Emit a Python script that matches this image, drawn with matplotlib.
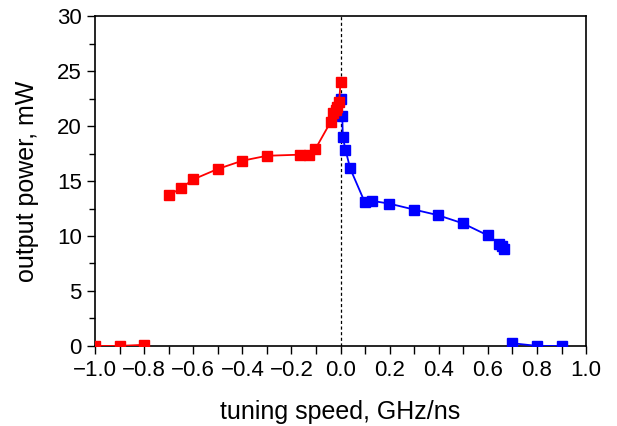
import matplotlib
matplotlib.use("Agg")
import matplotlib.pyplot as plt
from matplotlib.ticker import MultipleLocator

plt.rcParams['font.family'] = ['Liberation Sans', 'DejaVu Sans']
plt.rcParams['axes.unicode_minus'] = True

# rojo: barrido negativo
rojo_bajo_x = [-1.0, -0.9, -0.8]
rojo_bajo_y = [0.0, 0.0, 0.1]
rojo_x = [-0.7, -0.65, -0.6, -0.5, -0.4, -0.3, -0.165, -0.13, -0.103,
          -0.04, -0.03, -0.018, -0.013, -0.006, 0.0]
rojo_y = [13.7, 14.35, 15.15, 16.1, 16.85, 17.3, 17.4, 17.35, 17.9,
          20.4, 21.15, 21.45, 21.75, 22.2, 24.0]

# azul: barrido positivo
azul_x = [0.002, 0.007, 0.009, 0.02, 0.039, 0.098, 0.127, 0.198, 0.3,
          0.396, 0.498, 0.6, 0.647, 0.657, 0.667]
azul_y = [22.5, 20.9, 19.0, 17.85, 16.15, 13.1, 13.2, 12.95, 12.4,
          11.9, 11.15, 10.05, 9.3, 9.1, 8.85]
azul_bajo_x = [0.697, 0.8, 0.9]
azul_bajo_y = [0.25, 0.0, 0.0]

fig = plt.figure(figsize=(6.17, 4.26), dpi=100)
ax = fig.add_axes([0.154, 0.188, 0.796, 0.774])

ax.axvline(0, color='black', linestyle=(0, (2.5, 2)), linewidth=0.9, zorder=1)

estilo = dict(marker='s', markersize=6.5, linewidth=1.3, zorder=3)
ax.plot(azul_x, azul_y, color='#0000ff', **estilo)
ax.plot(azul_bajo_x, azul_bajo_y, color='#0000ff', **estilo)
ax.plot(rojo_x, rojo_y, color='#ff0000', **estilo)
ax.plot(rojo_bajo_x, rojo_bajo_y, color='#ff0000', **estilo)

ax.set_xlim(-1.0, 1.0)
ax.set_ylim(0, 30)
ax.xaxis.set_major_locator(MultipleLocator(0.2))
ax.xaxis.set_minor_locator(MultipleLocator(0.1))
ax.yaxis.set_major_locator(MultipleLocator(5))
ax.yaxis.set_minor_locator(MultipleLocator(2.5))
ax.xaxis.set_major_formatter(plt.FuncFormatter(lambda v, p: f"{v:.1f}".replace("-", "\u2212")))

ax.tick_params(axis='both', which='major', direction='out', length=5.5,
               width=1, labelsize=16, top=False, right=False)
ax.tick_params(axis='x', which='minor', direction='out', length=5.5, width=1)
ax.tick_params(axis='y', which='minor', direction='out', length=4, width=1)
ax.tick_params(axis='x', pad=5)
ax.tick_params(axis='y', pad=4)

for lado in ax.spines.values():
    lado.set_linewidth(1.2)

ax.set_xlabel("tuning speed, GHz/ns", fontsize=18, labelpad=13)
ax.set_ylabel("output power, mW", fontsize=18, labelpad=13)

fig.savefig("out.png", dpi=100)
